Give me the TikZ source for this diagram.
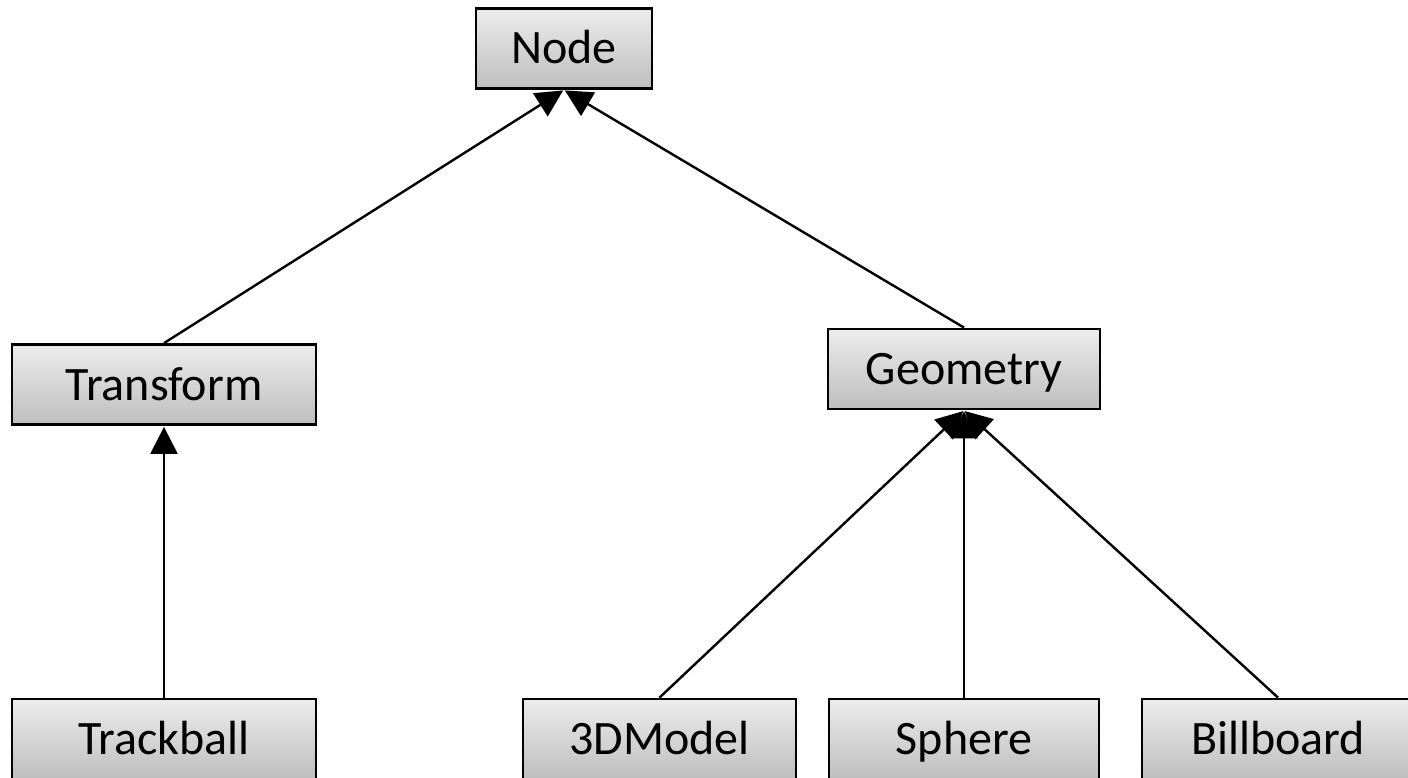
\documentclass[tikz,border=0pt]{standalone}
\usepackage{fontspec}
\setmainfont{Carlito}
\usetikzlibrary{arrows.meta}
\definecolor{boxtop}{RGB}{236,236,236}
\definecolor{boxbot}{RGB}{190,190,190}
\tikzset{
  cls/.style={draw=black, line width=2.8pt, top color=boxtop, bottom color=boxbot,
    minimum height=80pt, inner sep=0pt, text height=31pt, text depth=0pt,
    font=\fontsize{48}{56}\selectfont, anchor=center},
  inh/.style={line width=2.4pt, -{Triangle[length=27pt,width=27pt]}, shorten >=1pt}
}
\begin{document}
\begin{tikzpicture}[x=1pt,y=-1pt]
\useasboundingbox (0,0) rectangle (1408,778);
\clip (0,0) rectangle (1408,778);
\node[cls, minimum width=176pt] (node) at (564,48.5) {Node};
\node[cls, minimum width=304pt] (tr) at (164,384.5) {Transform};
\node[cls, minimum width=272pt] (geo) at (964,369) {Geometry};
\node[cls, minimum width=304pt] (tb) at (164,739) {Trackball};
\node[cls, minimum width=273pt] (mod) at (659.5,739) {3DModel};
\node[cls, minimum width=270pt] (sph) at (964,739) {Sphere};
\node[cls, minimum width=272pt] (bb) at (1278,739) {Billboard};
\draw[inh] (tr.north) -- (node.south);
\draw[inh] (geo.north) -- (node.south);
\draw[inh] (tb.north) -- (tr.south);
\draw[inh] (mod.north) -- (geo.south);
\draw[inh] (sph.north) -- (geo.south);
\draw[inh] (bb.north) -- (geo.south);
\end{tikzpicture}
\end{document}
